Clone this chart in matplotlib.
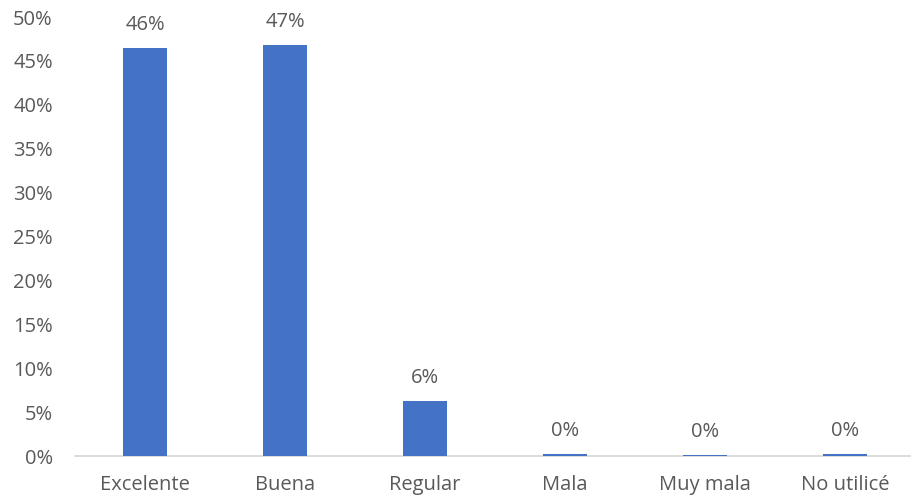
import matplotlib.pyplot as plt
from matplotlib.ticker import MultipleLocator, FuncFormatter

plt.rcParams['font.family'] = ['Open Sans', 'DejaVu Sans']

categories = ["Excelente", "Buena", "Regular", "Mala", "Muy mala", "No utilicé"]
values = [46.5, 46.8, 6.3, 0.25, 0.1, 0.2]
labels = ["46%", "47%", "6%", "0%", "0%", "0%"]

grey = "#595959"
blue = "#4472C4"

fig = plt.figure(figsize=(9.12, 5.03), dpi=100)
ax = fig.add_axes([75/912, 1 - 456/503, 837/912, 439/503])

x = range(len(categories))
bars = ax.bar(x, values, width=0.31, color=blue, zorder=3)

for b, lab in zip(bars, labels):
    ax.text(b.get_x() + b.get_width()/2, b.get_height() + 1.5, lab,
            ha='center', va='bottom', fontsize=14.5, color=grey)

ax.set_xlim(-0.5, 5.48)
ax.set_ylim(0, 50)
ax.yaxis.set_major_locator(MultipleLocator(5))
ax.yaxis.set_major_formatter(FuncFormatter(lambda v, p: f"{v:.0f}%"))
ax.set_xticks(list(x))
ax.set_xticklabels(categories)

for s in ['top', 'right', 'left']:
    ax.spines[s].set_visible(False)
ax.spines['bottom'].set_color('#d9d9d9')
ax.spines['bottom'].set_linewidth(1.3)
ax.tick_params(axis='both', length=0, labelsize=14.5, labelcolor=grey)
ax.tick_params(axis='y', pad=16)
ax.tick_params(axis='x', pad=14)

fig.savefig("out.png", dpi=100)
